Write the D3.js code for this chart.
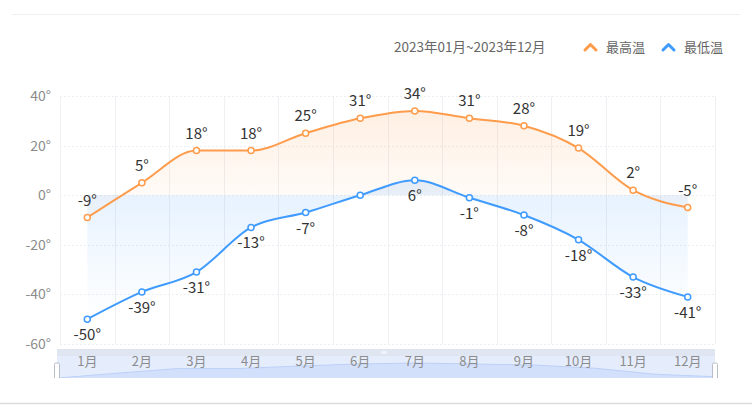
<!DOCTYPE html>
<html>
<head>
<meta charset="utf-8">
<script src="https://cdn.jsdelivr.net/npm/d3@7/dist/d3.min.js"></script>
<style>
  html, body { margin: 0; padding: 0; background: #fff; }
  svg { display: block; font-family: "Noto Sans CJK SC", "Noto Sans", sans-serif; }
</style>
</head>
<body>
<svg id="chart" width="752" height="406"></svg>
<script>
var months = ["1月", "2月", "3月", "4月", "5月", "6月", "7月", "8月", "9月", "10月", "11月", "12月"];
var highTemp = [-9, 5, 18, 18, 25, 31, 34, 31, 28, 19, 2, -5];
var lowTemp = [-50, -39, -31, -13, -7, 0, 6, -1, -8, -18, -33, -41];
var yTicks = [40, 20, 0, -20, -40, -60];
var seriesNames = ["最高温", "最低温"];
var seriesColor = ["#ff9c4c", "#3f9bff"];
var rangeText = "2023年01月~2023年12月";

var svg = d3.select("#chart");
var canvasBottom = 378; //chart area is cut off here

//frame lines
svg.append("line").attr("x1", 12).attr("x2", 740).attr("y1", 14.5).attr("y2", 14.5)
	.attr("stroke", "#efefef").attr("stroke-width", 1);
svg.append("line").attr("x1", 0).attr("x2", 752).attr("y1", 403.5).attr("y2", 403.5)
	.attr("stroke", "#dcdcdc").attr("stroke-width", 1.5);

var x = d3.scaleBand().domain(months).range([60, 715]);
var y = d3.scaleLinear().domain([-60, 40]).range([344, 96]);
var cx = function(d, i) { return x(months[i]) + x.bandwidth() / 2; };

var defs = svg.append("defs");
defs.append("clipPath").attr("id", "canvasClip")
	.append("rect").attr("x", 0).attr("y", 0).attr("width", 752).attr("height", canvasBottom);

var gradHigh = defs.append("linearGradient").attr("id", "gradHigh")
	.attr("gradientUnits", "userSpaceOnUse").attr("x1", 0).attr("x2", 0)
	.attr("y1", y(34)).attr("y2", y(-9));
gradHigh.append("stop").attr("offset", 0).attr("stop-color", "#ff9c4c").attr("stop-opacity", 0.16);
gradHigh.append("stop").attr("offset", 1).attr("stop-color", "#ff9c4c").attr("stop-opacity", 0.01);

var gradLow = defs.append("linearGradient").attr("id", "gradLow")
	.attr("gradientUnits", "userSpaceOnUse").attr("x1", 0).attr("x2", 0)
	.attr("y1", y(6)).attr("y2", y(-50));
gradLow.append("stop").attr("offset", 0).attr("stop-color", "#3f9bff").attr("stop-opacity", 0.14);
gradLow.append("stop").attr("offset", 1).attr("stop-color", "#3f9bff").attr("stop-opacity", 0.0);

var chart = svg.append("g").attr("clip-path", "url(#canvasClip)");

//grid
chart.append("g").selectAll("line").data(d3.range(months.length + 1))
	.enter().append("line")
	.attr("x1", function(i) { return Math.round(60 + i * x.step()) + 0.5; })
	.attr("x2", function(i) { return Math.round(60 + i * x.step()) + 0.5; })
	.attr("y1", y(40)).attr("y2", y(-60))
	.attr("stroke", "#eef0f4");
chart.append("g").selectAll("line").data(yTicks)
	.enter().append("line")
	.attr("x1", 60).attr("x2", 715)
	.attr("y1", function(d) { return Math.round(y(d)) + 0.5; })
	.attr("y2", function(d) { return Math.round(y(d)) + 0.5; })
	.attr("stroke", "#eceef1").attr("stroke-dasharray", "2,2");

//y labels
chart.append("g").selectAll("text").data(yTicks)
	.enter().append("text")
	.attr("x", 51).attr("y", function(d) { return y(d) + 5; })
	.attr("text-anchor", "end").attr("font-size", 14).attr("fill", "#8c8c8c")
	.text(function(d) { return d + "°"; });

//areas
var area = d3.area().x(cx).y0(y(0)).y1(function(d) { return y(d); }).curve(d3.curveMonotoneX);
var line = d3.line().x(cx).y(function(d) { return y(d); }).curve(d3.curveMonotoneX);

chart.append("path").attr("d", area(lowTemp)).attr("fill", "url(#gradLow)");
chart.append("path").attr("d", area(highTemp)).attr("fill", "url(#gradHigh)");

//data zoom slider
var slider = chart.append("g");
slider.append("rect").attr("x", 57).attr("y", 349).attr("width", 658).attr("height", 7).attr("fill", "#dfe5f1");
slider.append("rect").attr("x", 57).attr("y", 356).attr("width", 658).attr("height", 30).attr("fill", "#e5edfd");
var sx = d3.scaleLinear().domain([0, months.length - 1]).range([57, 715]);
var sy = d3.scaleLinear().domain([-20, 34]).range([382, 363]);
slider.append("path")
	.attr("d", d3.area().x(function(d, i) { return sx(i); }).y0(390).y1(function(d) { return sy(d); })(highTemp))
	.attr("fill", "#d3e0fc");
slider.append("path")
	.attr("d", d3.line().x(function(d, i) { return sx(i); }).y(function(d) { return sy(d); })(highTemp))
	.attr("fill", "none").attr("stroke", "#bcd0f8").attr("stroke-width", 1);
slider.selectAll("rect.handle").data([57, 715]).enter().append("rect").attr("class", "handle")
	.attr("x", function(d) { return d - 2.5; }).attr("y", 363).attr("width", 5).attr("height", 20)
	.attr("rx", 1.5).attr("fill", "#fff").attr("stroke", "#b8bec9").attr("stroke-width", 1);
slider.selectAll("line.grip").data([-2, 0, 2]).enter().append("line").attr("class", "grip")
	.attr("x1", function(d) { return 384 + d; }).attr("x2", function(d) { return 384 + d; })
	.attr("y1", 351).attr("y2", 354).attr("stroke", "#fff").attr("stroke-width", 1);

//x labels
chart.append("g").selectAll("text").data(months)
	.enter().append("text")
	.attr("x", cx).attr("y", 366)
	.attr("text-anchor", "middle").attr("font-size", 13).attr("fill", "#8c8c8c")
	.text(function(d) { return d; });

//lines, points, labels (a 0° label is not shown)
[highTemp, lowTemp].forEach(function(data, s) {
	var g = chart.append("g");
	g.append("path").attr("d", line(data)).attr("fill", "none")
		.attr("stroke", seriesColor[s]).attr("stroke-width", 2);
	g.selectAll("circle").data(data).enter().append("circle")
		.attr("cx", cx).attr("cy", function(d) { return y(d); }).attr("r", 3)
		.attr("fill", "#fff").attr("stroke", seriesColor[s]).attr("stroke-width", 1.5);
	g.selectAll("text").data(data).enter().append("text")
		.attr("x", cx)
		.attr("y", function(d) { return s === 0 ? y(d) - 12 : y(d) + 21; })
		.attr("text-anchor", "middle").attr("font-size", 15).attr("fill", "#333")
		.text(function(d) { return d === 0 ? "" : d + "°"; });
});

//header text and legend
svg.append("text").attr("x", 394).attr("y", 52).attr("font-size", 13.5).attr("fill", "#666")
	.text(rangeText);
var legendX = [584, 662];
seriesNames.forEach(function(name, i) {
	var lg = svg.append("g").attr("transform", "translate(" + legendX[i] + ",0)");
	lg.append("path").attr("d", "M1,50 L6.5,44.5 L12,50").attr("fill", "none")
		.attr("stroke", seriesColor[i]).attr("stroke-width", 3).attr("stroke-linecap", "round")
		.attr("stroke-linejoin", "round");
	lg.append("text").attr("x", 22).attr("y", 52).attr("font-size", 13).attr("fill", "#666").text(name);
});
</script>
</body>
</html>
